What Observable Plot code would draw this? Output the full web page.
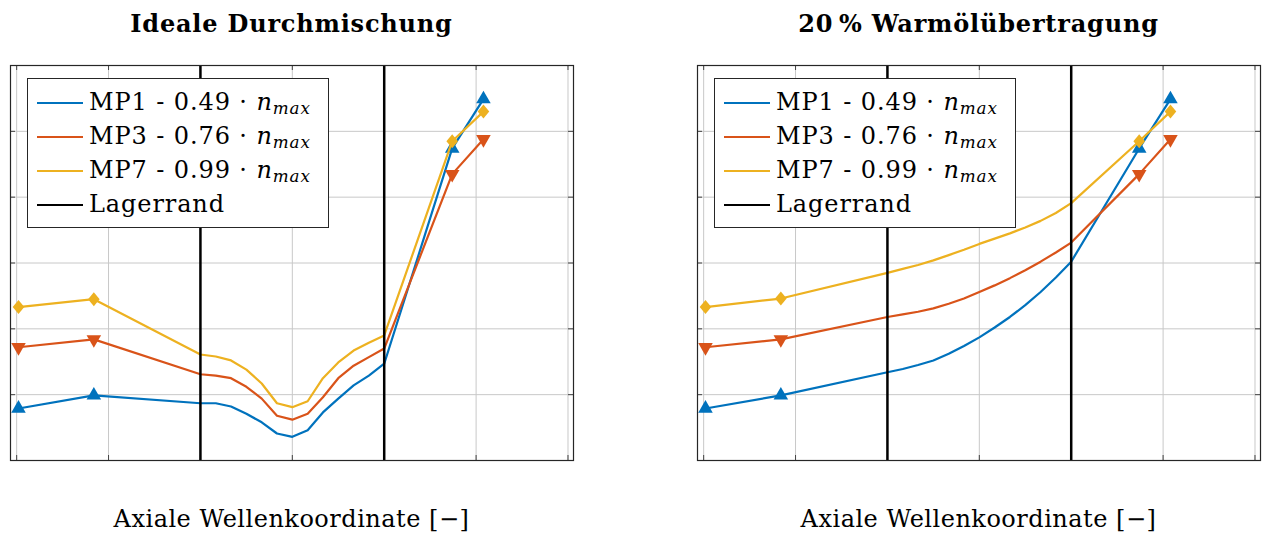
<!DOCTYPE html>
<html><head><meta charset="utf-8">
<script src="https://cdn.jsdelivr.net/npm/d3@7"></script>
<script src="https://cdn.jsdelivr.net/npm/@observablehq/plot@0.6"></script>
<style>
body{margin:0;background:#fff;font-family:"DejaVu Serif",serif;color:#000}
#wrap{position:relative;width:1262px;height:540px;overflow:hidden}
.panel{position:absolute;top:0;width:631px;height:540px}
.title{position:absolute;top:9px;font-weight:bold;font-size:24px;letter-spacing:0.8px;white-space:nowrap;transform:translateX(-50%)}
.xlabel{position:absolute;top:505px;font-size:24px;letter-spacing:0.5px;white-space:nowrap;transform:translateX(-50%)}
.legend{position:absolute;top:78px;width:300px;height:148px;border:1px solid #262626;background:#fff}
.row{position:absolute;left:0;height:34px;line-height:34px;font-size:24px;letter-spacing:0.9px;white-space:nowrap}
.row .ln{position:absolute;left:9px;top:16px;width:46px;height:0;border-top:2.5px solid}
.row .tx{position:absolute;left:61px;top:-1px}
.row sub{font-size:70%;vertical-align:-0.25em;line-height:0}
</style></head>
<body><div id="wrap"></div>
<script>
// ---- data ----
const xPos = [0.02, 0.84, 2, 2.167, 2.333, 2.5, 2.667, 2.833, 3, 3.167, 3.333, 3.5, 3.667, 3.833, 4, 4.74, 5.08];
const markerIdx = [0, 1, 15, 16];
const idealMP1 = [0.79, 0.99, 0.87, 0.87, 0.82, 0.71, 0.58, 0.41, 0.36, 0.46, 0.73, 0.94, 1.14, 1.29, 1.47, 4.74, 5.49];
const idealMP3 = [1.72, 1.84, 1.31, 1.29, 1.25, 1.12, 0.94, 0.68, 0.62, 0.71, 0.96, 1.25, 1.44, 1.57, 1.70, 4.35, 4.88];
const idealMP7 = [2.33, 2.45, 1.61, 1.58, 1.52, 1.38, 1.17, 0.87, 0.81, 0.90, 1.25, 1.49, 1.67, 1.79, 1.90, 4.85, 5.30];
const warmMP1 = [0.79, 0.99, 1.34, 1.39, 1.45, 1.52, 1.62, 1.74, 1.87, 2.02, 2.18, 2.36, 2.56, 2.78, 3.02, 4.74, 5.49];
const warmMP3 = [1.72, 1.84, 2.18, 2.22, 2.26, 2.31, 2.38, 2.46, 2.56, 2.66, 2.77, 2.89, 3.02, 3.16, 3.31, 4.35, 4.88];
const warmMP7 = [2.33, 2.46, 2.85, 2.91, 2.97, 3.04, 3.12, 3.20, 3.29, 3.37, 3.45, 3.54, 3.64, 3.76, 3.91, 4.85, 5.30];
const lagerrand = [2, 4];
const gridTicks = [0, 1, 2, 3, 4, 5, 6];
const seriesNames = ["MP1", "MP3", "MP7"];
const seriesLabels = ["MP1 - 0.49 · ", "MP3 - 0.76 · ", "MP7 - 0.99 · "];
const colors = ["#0072BD", "#D95319", "#EDB120"];
const titles = ["Ideale Durchmischung", "20\u2009% Warmölübertragung"];
const xLabel = "Axiale Wellenkoordinate [\u2212]";

const diamondSym = {draw(ctx, size) { const h = 7, w = 5.8; ctx.moveTo(0, -h); ctx.lineTo(w, 0); ctx.lineTo(0, h); ctx.lineTo(-w, 0); ctx.closePath(); }};
const symbols = ["triangle", "triangle", diamondSym];
const rotations = [0, 180, 0];

const W = 631, H = 540, MT = 65, MB = 80, FW = 563, FH = H - MT - MB;

function rows(vals) {
  return vals.map((v, i) => ({x: xPos[i], y: v, i}));
}

function panel(data, left, marginLeft, title) {
  const div = document.createElement("div");
  div.className = "panel";
  div.style.left = left + "px";
  const marks = [
    Plot.gridX(gridTicks, {stroke: "#c8c8c8", strokeOpacity: 1, strokeWidth: 1}),
    Plot.gridY(gridTicks, {stroke: "#c8c8c8", strokeOpacity: 1, strokeWidth: 1}),
    Plot.tickX(gridTicks, {x: d => d, insetTop: FH - 5, stroke: "#444"}),
    Plot.tickX(gridTicks, {x: d => d, insetBottom: FH - 5, stroke: "#444"}),
    Plot.tickY(gridTicks, {y: d => d, insetRight: FW - 5, stroke: "#444"}),
    Plot.tickY(gridTicks, {y: d => d, insetLeft: FW - 5, stroke: "#444"})
  ];
  data.forEach((vals, k) => {
    const r = rows(vals);
    marks.push(Plot.line(r, {x: "x", y: "y", stroke: colors[k], strokeWidth: 2.2}));
    marks.push(Plot.dot(r.filter(d => markerIdx.includes(d.i)), {x: "x", y: "y", fill: colors[k], stroke: "none", symbol: symbols[k], r: 5.4, rotate: rotations[k]}));
  });
  marks.push(Plot.ruleX(lagerrand, {stroke: "#000", strokeWidth: 2.5}));
  marks.push(Plot.frame({stroke: "#262626", strokeWidth: 1.2}));
  const chart = Plot.plot({
    width: W, height: H,
    marginLeft, marginRight: W - marginLeft - FW, marginTop: MT, marginBottom: MB,
    x: {domain: [-0.067, 6.06], axis: null},
    y: {domain: [0, 6], axis: null},
    style: {background: "transparent"},
    marks
  });
  div.appendChild(chart);

  const cx = marginLeft + FW / 2;
  const t = document.createElement("div");
  t.className = "title"; t.style.left = cx + "px"; t.textContent = title;
  div.appendChild(t);
  const xl = document.createElement("div");
  xl.className = "xlabel"; xl.style.left = cx + "px"; xl.textContent = xLabel;
  div.appendChild(xl);

  const lg = document.createElement("div");
  lg.className = "legend"; lg.style.left = (marginLeft + 17) + "px";
  const entries = seriesNames.map((n, k) => ({color: colors[k], html: seriesLabels[k] + "<i>n</i><sub><i>max</i></sub>"}));
  entries.push({color: "#000", html: "Lagerrand"});
  entries.forEach((e, k) => {
    const rw = document.createElement("div");
    rw.className = "row"; rw.style.top = (7 + 34 * k) + "px";
    rw.innerHTML = `<span class="ln" style="border-color:${e.color}"></span><span class="tx">${e.html}</span>`;
    lg.appendChild(rw);
  });
  div.appendChild(lg);
  return div;
}

const wrap = document.getElementById("wrap");
wrap.appendChild(panel([idealMP1, idealMP3, idealMP7], 0, 10, titles[0]));
wrap.appendChild(panel([warmMP1, warmMP3, warmMP7], 631, 66, titles[1]));
</script></body></html>
